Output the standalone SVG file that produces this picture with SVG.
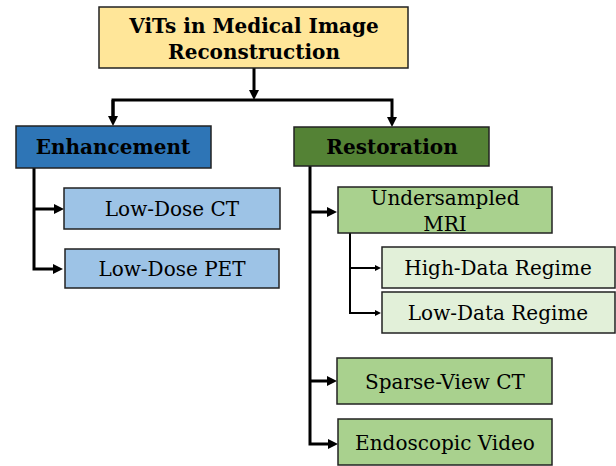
<svg xmlns="http://www.w3.org/2000/svg" width="616" height="466" viewBox="0 0 616 466">
<style>
.box{stroke:#222;stroke-width:1.5}
.t{font-family:"DejaVu Serif","Liberation Serif",serif;font-size:20px;fill:#000;text-anchor:middle}
.b{font-weight:bold;font-size:20px}
.c{fill:none;stroke:#000;stroke-width:3}
.s{fill:none;stroke:#000;stroke-width:2}
</style>
<defs>
<marker id="ah" viewBox="0 0 10 10" refX="0" refY="5" markerUnits="userSpaceOnUse" markerWidth="10" markerHeight="10" orient="auto">
<path d="M0,0 L10,5 L0,10 z" fill="#000"/>
</marker>
<marker id="ahs" viewBox="0 0 6 6" refX="0" refY="3" markerUnits="userSpaceOnUse" markerWidth="6" markerHeight="6" orient="auto">
<path d="M0,0 L6,3 L0,6 z" fill="#000"/>
</marker>
</defs>
<g id="connectors">
<path class="c" d="M254,68 V90" marker-end="url(#ah)"/>
<path class="c" d="M113,116 V100 H392 V117" marker-end="url(#ah)"/>
<path class="c" d="M113,100 V116" marker-end="url(#ah)"/>
<path class="c" d="M34,168 V269 H53" marker-end="url(#ah)"/>
<path class="c" d="M34,209 H54" marker-end="url(#ah)"/>
<path class="c" d="M310,166 V444 H328" marker-end="url(#ah)"/>
<path class="c" d="M310,212 H327" marker-end="url(#ah)"/>
<path class="c" d="M310,381 H327" marker-end="url(#ah)"/>
<path class="s" d="M350,233 V313 H375" marker-end="url(#ahs)"/>
<path class="s" d="M350,268 H375" marker-end="url(#ahs)"/>
</g>
<g id="root">
<rect class="box" x="99" y="7" width="309" height="61" fill="#ffe699"/>
<text class="t b" x="254" y="33">ViTs in Medical Image</text>
<text class="t b" x="254" y="59">Reconstruction</text>
</g>
<g id="enhancement">
<rect class="box" x="16" y="126" width="195" height="42" fill="#2e75b6"/>
<text class="t b" x="113" y="154">Enhancement</text>
</g>
<g id="restoration">
<rect class="box" x="294" y="127" width="195" height="39" fill="#548235"/>
<text class="t b" x="392" y="154">Restoration</text>
</g>
<g id="lowdose-ct">
<rect class="box" x="64" y="188" width="216" height="41" fill="#9dc3e6"/>
<text class="t" x="172" y="216">Low-Dose CT</text>
</g>
<g id="lowdose-pet">
<rect class="box" x="65" y="249" width="214" height="39" fill="#9dc3e6"/>
<text class="t" x="172" y="276">Low-Dose PET</text>
</g>
<g id="undersampled-mri">
<rect class="box" x="338" y="187" width="214" height="46" fill="#a9d18e"/>
<text class="t" x="445" y="205">Undersampled</text>
<text class="t" x="445" y="231">MRI</text>
</g>
<g id="high-data">
<rect class="box" x="382" y="247" width="233" height="41" fill="#e2f0d9"/>
<text class="t" x="498" y="275">High-Data Regime</text>
</g>
<g id="low-data">
<rect class="box" x="382" y="292" width="233" height="41" fill="#e2f0d9"/>
<text class="t" x="498" y="320">Low-Data Regime</text>
</g>
<g id="sparse-view-ct">
<rect class="box" x="337" y="358" width="215" height="46" fill="#a9d18e"/>
<text class="t" x="445" y="389">Sparse-View CT</text>
</g>
<g id="endoscopic-video">
<rect class="box" x="338" y="419" width="214" height="46" fill="#a9d18e"/>
<text class="t" x="445" y="450">Endoscopic Video</text>
</g>
</svg>
